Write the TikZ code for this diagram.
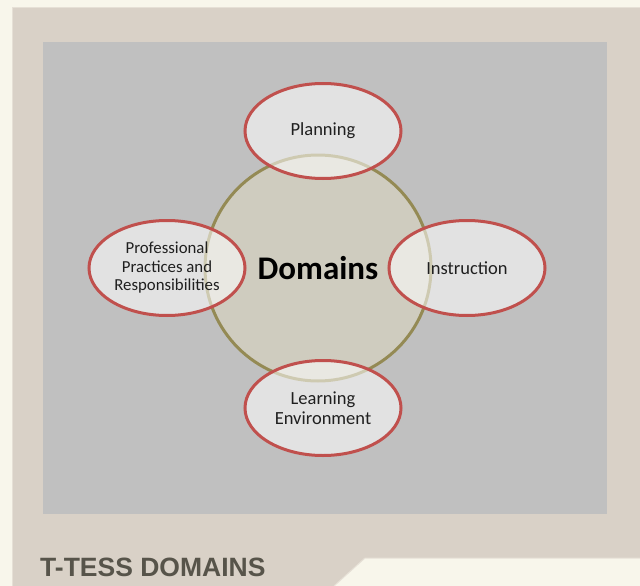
\documentclass[tikz,border=0pt]{standalone}
\usepackage{fontspec}
\setmainfont{Carlito}
\newfontfamily\titlefont{Liberation Sans}
\usetikzlibrary{shapes.geometric}
\definecolor{cream}{HTML}{F8F6EB}
\definecolor{panel}{HTML}{D9D1C7}
\definecolor{paneledge}{HTML}{E6E0D6}
\definecolor{grayarea}{HTML}{C0C0C0}
\definecolor{hubfill}{HTML}{CFCCBF}
\definecolor{hubline}{HTML}{948A54}
\definecolor{domline}{HTML}{C0504D}
\definecolor{titlecol}{HTML}{57544A}
\begin{document}
\begin{tikzpicture}[x=1pt,y=-1pt,
  hubbox/.style={circle, draw=hubline, fill=hubfill, line width=3pt, minimum size=226pt, inner sep=0pt,
    font=\bfseries\fontsize{33}{36}\selectfont, text=black},
  domainbox/.style={ellipse, draw=domline, line width=3pt, fill=white, fill opacity=0.55, text opacity=1,
    minimum width=156pt, minimum height=95pt, inner sep=0pt, align=center,
    font=\fontsize{18.5}{20.3}\selectfont, text=black!88},
  smalltext/.style={font=\fontsize{16.8}{18.5}\selectfont},
  titletext/.style={anchor=base west, inner sep=0pt, text=titlecol,
    font=\titlefont\bfseries\fontsize{26.5}{30}\selectfont}]
\useasboundingbox (0,0) rectangle (640,586);
\fill[cream] (0,0) rectangle (640,586);
\fill[panel] (12,7) rectangle (640,586);
\draw[paneledge, line width=1pt] (12.5,586) -- (12.5,7.5) -- (640,7.5);
\fill[grayarea] (43,42) rectangle (607,514);
\fill[cream] (365,558) -- (640,558) -- (640,586) -- (334,586) -- cycle;
\draw[paneledge, line width=1pt] (334,586) -- (365,558) -- (640,558);
\node[titletext] (title) at (40,576) {T-TESS DOMAINS};
\node[hubbox] (hubnode) at (318,268) {Domains};
\node[domainbox] (plan) at (323,131) {Planning};
\node[domainbox] (instr) at (467,268) {Instruction};
\node[domainbox] (learn) at (323,408) {Learning\\Environment};
\node[domainbox, smalltext] (prof) at (167,268) {Professional\\Practices and\\Responsibilities};
\end{tikzpicture}
\end{document}
